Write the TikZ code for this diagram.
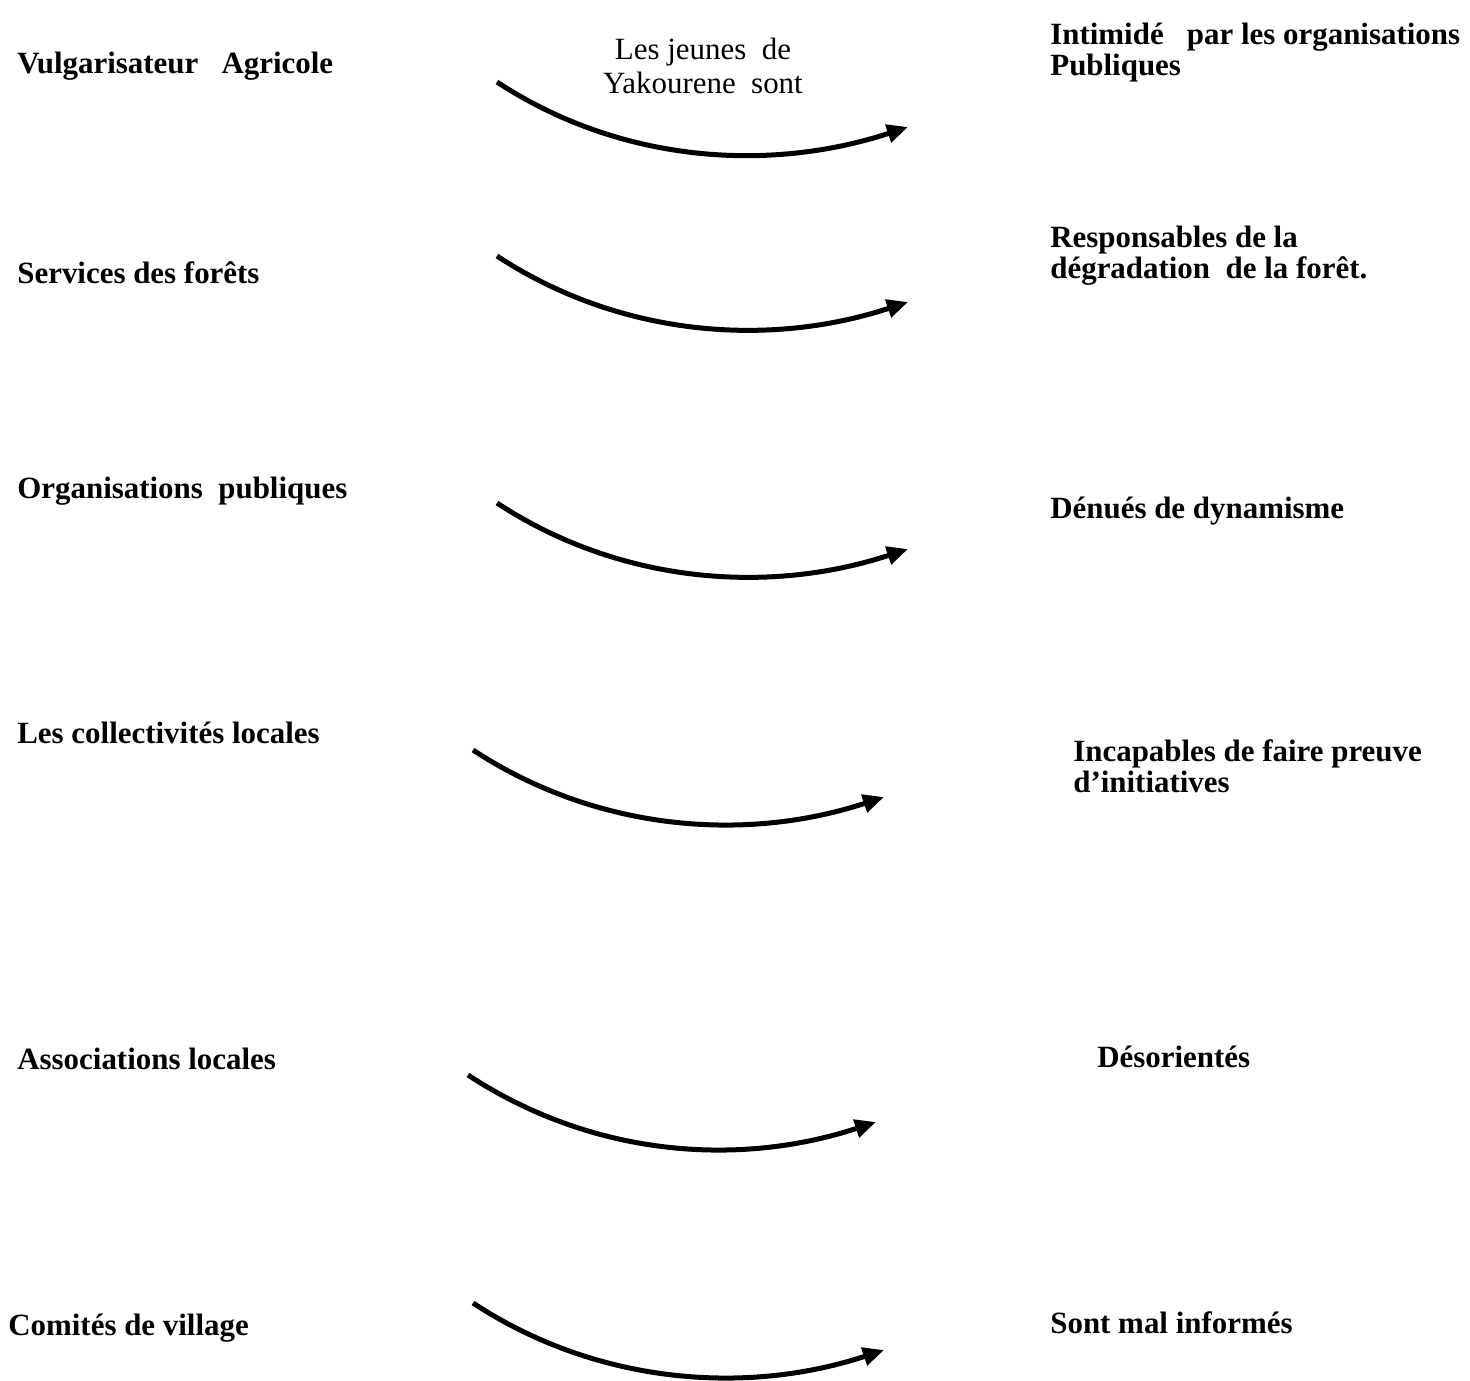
\documentclass[tikz,border=0pt]{standalone}
\usepackage{fontspec}
\setmainfont{Liberation Serif}
\usetikzlibrary{arrows.meta}

\begin{document}
\begin{tikzpicture}[
  x=0.02cm, y=-0.02cm,
  lbl/.style={font=\bfseries\fontsize{17.6}{17.1}\selectfont,
    anchor=base west, inner sep=0pt, align=left},
  mid/.style={font=\fontsize{17.6}{18.8}\selectfont,
    anchor=base, inner sep=0pt, align=center},
  arr/.style={-{Triangle[length=0.42cm, width=0.36cm]}, line width=0.1cm},
]
\useasboundingbox (0,0) rectangle (1470,1380);

% --- Left: actors ---
\node[lbl] (vulg)  at (17, 73)   {Vulgarisateur\ \ \ Agricole};
\node[lbl] (forets) at (17, 283) {Services des forêts};
\node[lbl] (orgpub) at (17, 498) {Organisations\ \ publiques};
\node[lbl] (collec) at (17, 743) {Les collectivités locales};
\node[lbl] (assoc)  at (17, 1069) {Associations locales};
\node[lbl] (comite) at (8, 1335) {Comités de village};

% --- Middle label (base = last line) ---
\node[mid] (jeunes) at (703, 93) {Les jeunes\ \ de\\Yakourene\ \ sont};

% --- Right: perceptions ---
\node[lbl] (intim)  at (1050, 75)  {Intimidé\ \ \ par les organisations\\Publiques};
\node[lbl] (respo)  at (1050, 278) {Responsables de la\\dégradation\ \ de la forêt.};
\node[lbl] (denues) at (1050, 518) {Dénués de dynamisme};
\node[lbl] (incap)  at (1073, 792) {Incapables de faire preuve\\d’initiatives};
\node[lbl] (desor)  at (1097, 1067) {Désorientés};
\node[lbl] (malinf) at (1050, 1333) {Sont mal informés};

% --- Arrows ---
\coordinate (s1) at (497, 82);   \coordinate (e1) at (908, 127);
\coordinate (s2) at (497, 256);  \coordinate (e2) at (908, 302);
\coordinate (s3) at (497, 503);  \coordinate (e3) at (908, 549);
\coordinate (s4) at (473, 750);  \coordinate (e4) at (884, 797);
\coordinate (s5) at (468, 1075); \coordinate (e5) at (876, 1122);
\coordinate (s6) at (473, 1303); \coordinate (e6) at (884, 1350);

\foreach \i in {1,...,6}
  \draw[arr] (s\i) .. controls +(125,82) and +(-137,45) .. (e\i);

\end{tikzpicture}
\end{document}
